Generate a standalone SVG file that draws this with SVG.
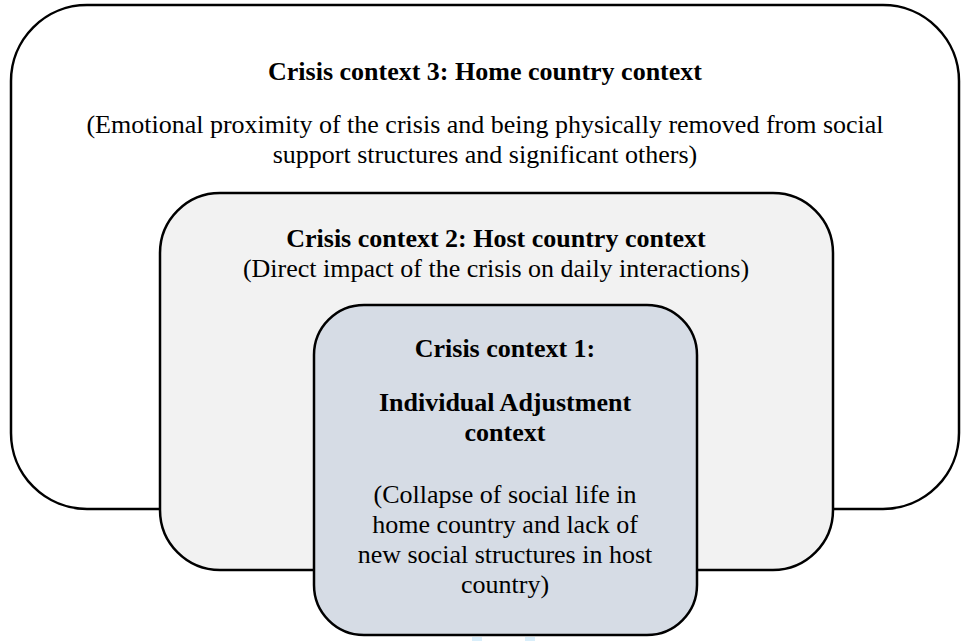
<svg xmlns="http://www.w3.org/2000/svg" width="961" height="641" viewBox="0 0 961 641">
  <style>
    .box { stroke: #000; stroke-width: 2.5; }
    .t { font-family: "Liberation Serif", "Times New Roman", serif; font-size: 26px; fill: #000; text-anchor: middle; }
    .b { font-weight: bold; }
  </style>
  <rect width="961" height="641" fill="#fff"/>

  <g id="context3">
    <rect class="box" x="11" y="5" width="948" height="504" rx="76" ry="76" fill="#fff"/>
    <text class="t b" x="485" y="80">Crisis context 3: Home country context</text>
    <text class="t" x="485" y="133">(Emotional proximity of the crisis and being physically removed from social</text>
    <text class="t" x="485" y="163">support structures and significant others)</text>
  </g>

  <g id="context2">
    <rect class="box" x="160" y="193" width="673" height="377" rx="60" ry="60" fill="#f2f2f2"/>
    <text class="t b" x="496" y="247">Crisis context 2: Host country context</text>
    <text class="t" x="496" y="277">(Direct impact of the crisis on daily interactions)</text>
  </g>

  <g id="context1">
    <rect class="box" x="314" y="305" width="383" height="330" rx="50" ry="50" fill="#d6dce5"/>
    <text class="t b" x="505" y="357">Crisis context 1:</text>
    <text class="t b" x="505" y="411">Individual Adjustment</text>
    <text class="t b" x="505" y="441">context</text>
    <text class="t" x="505" y="503">(Collapse of social life in</text>
    <text class="t" x="505" y="533">home country and lack of</text>
    <text class="t" x="505" y="563">new social structures in host</text>
    <text class="t" x="505" y="593">country)</text>
  </g>

  <g id="connectors"></g>

  <!-- faint marks along the lower edge -->
  <rect x="472" y="637" width="10" height="4" fill="#d9eefa"/>
  <rect x="525" y="637" width="10" height="4" fill="#d9eefa"/>
</svg>
